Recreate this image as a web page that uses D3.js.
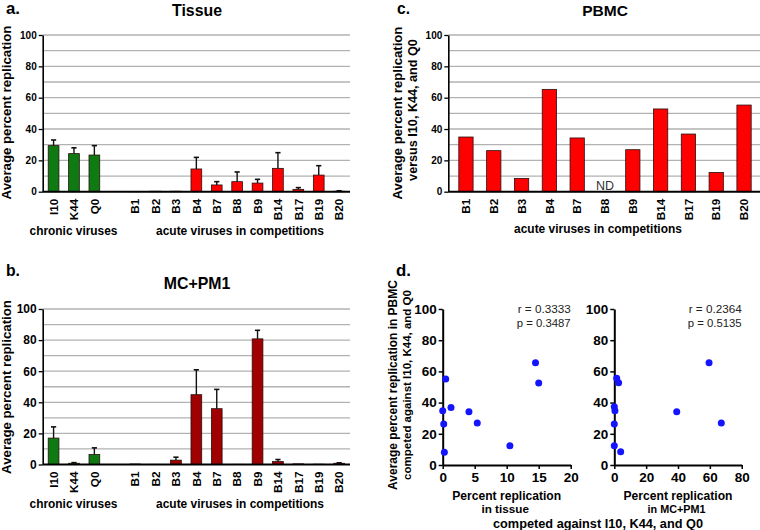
<!DOCTYPE html>
<html><head><meta charset="utf-8">
<script src="https://cdn.jsdelivr.net/npm/d3@7"></script>
<style>body{margin:0;background:#fff} svg{display:block} text{font-family:"Liberation Sans",Arial,sans-serif}</style>
</head><body><svg id="c" width="760" height="530"></svg>
<script>
// ---------- data ----------
const chronicViruses = ["I10", "K44", "Q0"];
const acuteViruses = ["B1", "B2", "B3", "B4", "B7", "B8", "B9", "B14", "B17", "B19", "B20"];

const tissueChronic = [29.4, 24.3, 23.4];
const tissueChronicErr = [3.6, 3.7, 6.0];
const tissueAcute = [0.2, 0.3, 0.3, 14.5, 4.3, 6.4, 5.5, 14.9, 1.5, 10.6, 0.3];
const tissueAcuteErr = [0, 0, 0, 7.4, 2.1, 6.2, 2.4, 10.0, 1.1, 6.0, 0.3];

const mcChronic = [17.0, 0.8, 6.4];
const mcChronicErr = [7.2, 0.4, 4.3];
const mcAcute = [0.3, 0.1, 2.8, 44.9, 35.9, 0.1, 80.8, 1.9, 0.4, 0.2, 0.8];
const mcAcuteErr = [0, 0, 1.9, 16.0, 12.4, 0, 5.5, 1.3, 0, 0, 0.3];

const pbmcAcute = [34.9, 26.2, 8.5, 65.3, 34.3, null, 26.8, 52.8, 36.8, 12.3, 55.3];

const scatterTissueX = [0.47, 0, 0.16, 0.26, 1.3, 4.1, 5.4, 10.5, 14.5, 15.0];
const scatterTissueY = [55.1, 34.8, 26.3, 8.1, 36.8, 34.2, 26.9, 12.4, 65.6, 52.6];
const scatterMcX = [1.5, 2.7, 0, 0.4, 0, 0, 4.0, 39.2, 59.5, 67.2];
const scatterMcY = [55.6, 52.8, 37.4, 34.8, 26.3, 12.4, 8.5, 34.2, 65.6, 26.9];

const barTicks = [0, 20, 40, 60, 80, 100];
const tissueTicks = [0, 5, 10, 15, 20];
const mcTicks = [0, 20, 40, 60, 80];
const scatterYTicks = [0, 20, 40, 60, 80, 100];

const corrTissue = ["r = 0.3333", "p = 0.3487"];
const corrMc = ["r = 0.2364", "p = 0.5135"];

// ---------- drawing ----------
const svg = d3.select("#c");
const FONT = '"Liberation Sans", Arial, sans-serif';
const GREEN = "#0f7a12", RED = "#ff0000", DARKRED = "#a00000";

// font size that makes string s (bold/normal) take width w
function fitSize(s, w, weight = "bold") {
  const t = svg.append("text").attr("font-size", 20).attr("font-weight", weight)
    .attr("font-family", FONT).text(s);
  const len = t.node().getComputedTextLength();
  t.remove();
  return 20 * w / len;
}

function txt(x, y, s, w, opts = {}) {
  const weight = opts.weight || "bold";
  const size = fitSize(s, w, weight);
  const t = svg.append("text").attr("x", x).attr("y", y).text(s)
    .attr("font-size", size).attr("font-weight", weight).attr("font-family", FONT)
    .attr("text-anchor", opts.anchor || "middle").attr("fill", opts.fill || "#000");
  if (opts.rotate) t.attr("transform", `rotate(-90,${x},${y})`);
  return t;
}

const catSize = fitSize("B14", 21.5);

function barPanel(o) {
  const g = svg.append("g");
  const y = d3.scaleLinear().domain([0, 100]).range([o.yb, o.yt]);
  const x = d3.scaleBand().domain(o.cats).range([o.x0, o.x1]).paddingInner(o.pi).paddingOuter(o.po);
  g.selectAll("line.grid").data(d3.range(10, 101, 10)).join("line")
    .attr("x1", o.x0).attr("x2", o.gx1).attr("y1", d => y(d)).attr("y2", d => y(d))
    .attr("stroke", "#b2b2b2").attr("stroke-width", 1.3);
  const data = o.cats.map((c, i) => ({ c, v: o.values[i], e: o.errs ? o.errs[i] : 0, col: o.colors[i] }))
    .filter(d => d.v != null);
  g.selectAll("rect.bar").data(data).join("rect")
    .attr("x", d => x(d.c)).attr("width", x.bandwidth())
    .attr("y", d => y(d.v)).attr("height", d => y(0) - y(d.v))
    .attr("fill", d => d.col).attr("stroke", "#2a1010").attr("stroke-width", 0.8);
  const eb = data.filter(d => d.e > 0);
  g.selectAll("line.ev").data(eb).join("line")
    .attr("x1", d => x(d.c) + x.bandwidth() / 2).attr("x2", d => x(d.c) + x.bandwidth() / 2)
    .attr("y1", d => y(d.v)).attr("y2", d => y(d.v + d.e))
    .attr("stroke", "#111").attr("stroke-width", 1.4);
  g.selectAll("line.ec").data(eb).join("line")
    .attr("x1", d => x(d.c) + x.bandwidth() / 2 - 2.6).attr("x2", d => x(d.c) + x.bandwidth() / 2 + 2.6)
    .attr("y1", d => y(d.v + d.e)).attr("y2", d => y(d.v + d.e))
    .attr("stroke", "#111").attr("stroke-width", 1.6);
  // y axis
  const ya = g.append("g").attr("transform", `translate(${o.x0},0)`)
    .call(d3.axisLeft(y).tickValues(barTicks).tickSize(4).tickSizeOuter(0).tickPadding(2));
  ya.select(".domain").attr("stroke", "#000").attr("stroke-width", 1.6);
  ya.selectAll(".tick line").attr("stroke", "#000").attr("stroke-width", 1.3);
  ya.selectAll(".tick text").attr("font-size", fitSize("100", o.tickW)).attr("font-weight", "bold")
    .attr("font-family", FONT).attr("fill", "#000");
  // x axis
  const xa = g.append("g").attr("transform", `translate(0,${o.yb})`)
    .call(d3.axisBottom(x).tickSize(0).tickSizeOuter(0).tickFormat(d => d.startsWith("_") ? "" : d));
  xa.select(".domain").attr("d", `M${o.x0},0H${o.gx1}`).attr("stroke", "#000").attr("stroke-width", 2);
  xa.selectAll(".tick text").attr("transform", "rotate(-90)").attr("text-anchor", "end")
    .attr("x", -7).attr("y", 0).attr("dy", "0.36em")
    .attr("font-size", catSize).attr("font-weight", "bold").attr("font-family", FONT).attr("fill", "#000");
  return { x, y };
}

// panel a
const catsAB = [...chronicViruses, "_gap", ...acuteViruses];
const colA = [...chronicViruses.map(() => GREEN), null, ...acuteViruses.map(() => RED)];
barPanel({
  cats: catsAB, values: [...tissueChronic, null, ...tissueAcute],
  errs: [...tissueChronicErr, 0, ...tissueAcuteErr], colors: colA,
  x0: 42.7, x1: 350, gx1: 350, yt: 35, yb: 191.7, pi: 0.474, po: 0.27, tickW: 16.7
});
txt(6, 13.5, "a.", 14, { anchor: "start" });
txt(197, 16, "Tissue", 50);
txt(11, 112.5, "Average percent replication", 174, { rotate: true });
txt(73.5, 235, "chronic viruses", 88);
txt(240, 235, "acute viruses in competitions", 168);

// panel b
const colB = [...chronicViruses.map(() => GREEN), null, ...acuteViruses.map(() => DARKRED)];
barPanel({
  cats: catsAB, values: [...mcChronic, null, ...mcAcute],
  errs: [...mcChronicErr, 0, ...mcAcuteErr], colors: colB,
  x0: 42.7, x1: 350, gx1: 350, yt: 309, yb: 464.5, pi: 0.474, po: 0.27, tickW: 20
});
txt(6, 276, "b.", 14, { anchor: "start" });
txt(197, 289, "MC+PM1", 66.7);
txt(11, 387, "Average percent replication", 174, { rotate: true });
txt(73.5, 508, "chronic viruses", 88);
txt(240, 508, "acute viruses in competitions", 168);

// panel c
const pc = barPanel({
  cats: acuteViruses, values: pbmcAcute, errs: null, colors: acuteViruses.map(() => RED),
  x0: 448.3, x1: 761.7, gx1: 760, yt: 35, yb: 191.7, pi: 0.486, po: 0.378, tickW: 16.7
});
acuteViruses.forEach((c, i) => {
  if (pbmcAcute[i] == null)
    txt(pc.x(c) + pc.x.bandwidth() / 2, 190, "ND", 18, { weight: "normal", fill: "#333" });
});
txt(397, 13.5, "c.", 13, { anchor: "start" });
txt(605, 16, "PBMC", 45.7);
txt(402, 113, "Average percent replication", 173, { rotate: true });
txt(417, 110, "versus I10, K44, and Q0", 142, { rotate: true });
txt(598, 233, "acute viruses in competitions", 168);

// panel d
const scatTick = fitSize("100", 22.5);
function scatter(o) {
  const g = svg.append("g");
  const x = d3.scaleLinear().domain([0, o.xmax]).range([o.x0, o.x1]);
  const y = d3.scaleLinear().domain([0, 100]).range([o.yb, o.yt]);
  const xa = g.append("g").attr("transform", `translate(0,${o.yb})`)
    .call(d3.axisBottom(x).tickValues(o.xticks).tickSize(4).tickSizeOuter(0).tickPadding(3));
  const ya = g.append("g").attr("transform", `translate(${o.x0},0)`)
    .call(d3.axisLeft(y).tickValues(scatterYTicks).tickSize(4).tickSizeOuter(0).tickPadding(2));
  [xa, ya].forEach(a => {
    a.select(".domain").attr("stroke", "#000").attr("stroke-width", 2);
    a.selectAll(".tick line").attr("stroke", "#000").attr("stroke-width", 1.5);
    a.selectAll(".tick text").attr("font-size", scatTick).attr("font-weight", "bold")
      .attr("font-family", FONT).attr("fill", "#000");
  });
  g.selectAll("circle").data(o.xs.map((v, i) => [v, o.ys[i]])).join("circle")
    .attr("cx", d => x(d[0])).attr("cy", d => y(d[1])).attr("r", 3.5).attr("fill", "#1414ff");
  txt(o.x1, 313, o.corr[0], 53, { weight: "normal", anchor: "end", fill: "#222" });
  txt(o.x1, 327, o.corr[1], 54, { weight: "normal", anchor: "end", fill: "#222" });
  txt((o.x0 + o.x1) / 2, 499.5, "Percent replication", 109);
  txt((o.x0 + o.x1) / 2 - 1.5, 513, o.sub, o.subW);
}
scatter({ xs: scatterTissueX, ys: scatterTissueY, xmax: 20, xticks: tissueTicks,
  x0: 442.7, x1: 570.7, yt: 309, yb: 465, corr: corrTissue, sub: "in tissue", subW: 47.5 });
scatter({ xs: scatterMcX, ys: scatterMcY, xmax: 80, xticks: mcTicks,
  x0: 614.3, x1: 741.7, yt: 309, yb: 465, corr: corrMc, sub: "in MC+PM1", subW: 58 });
txt(396, 275.5, "d.", 15, { anchor: "start" });
txt(397, 385, "Average percent replication in PBMC", 210, { rotate: true });
txt(411, 385, "competed against I10, K44, and Q0", 190, { rotate: true });
txt(598, 527.5, "competed against I10, K44, and Q0", 210);
</script></body></html>
